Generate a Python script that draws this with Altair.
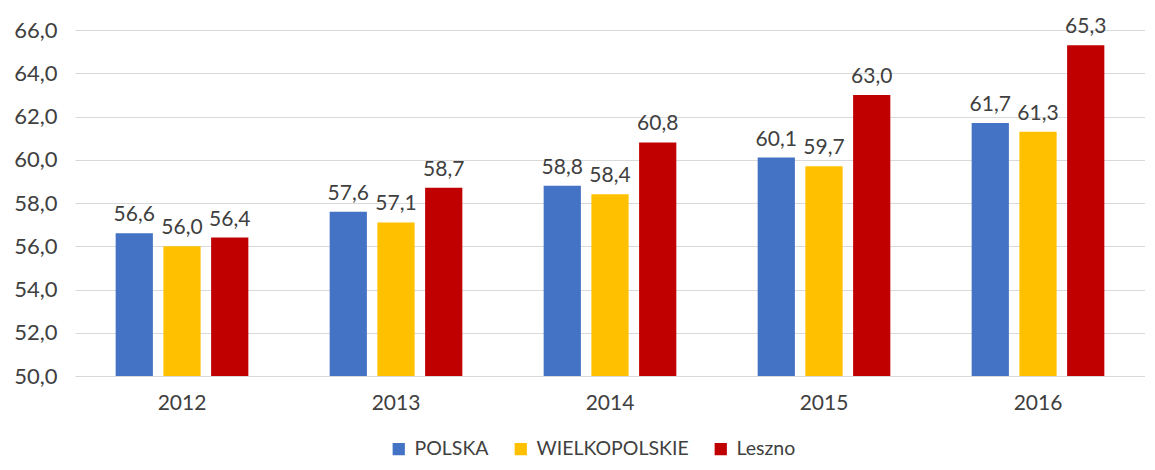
import altair as alt
import pandas as pd

years = ["2012", "2013", "2014", "2015", "2016"]
series = ["POLSKA", "WIELKOPOLSKIE", "Leszno"]
polska = [56.6, 57.6, 58.8, 60.1, 61.7]
wielkopolskie = [56.0, 57.1, 58.4, 59.7, 61.3]
leszno = [56.4, 58.7, 60.8, 63.0, 65.3]
colors = ["#4472C4", "#FFC000", "#C00000"]

rows = []
for name, vals in zip(series, [polska, wielkopolskie, leszno]):
    for y, v in zip(years, vals):
        rows.append({"year": y, "series": name, "value": v})
df = pd.DataFrame(rows)

FONT = "Lato"
TXT = "#404040"

x = alt.X("year:N", title=None, sort=years,
          scale=alt.Scale(paddingInner=0.38, paddingOuter=0.19),
          axis=alt.Axis(labelAngle=0, domain=False, ticks=False, labelPadding=16,
                        labelFontSize=21, labelColor=TXT, labelFont=FONT))
xo = alt.XOffset("series:N", sort=series, scale=alt.Scale(paddingInner=0.22, paddingOuter=0))
y = alt.Y("value:Q", title=None,
          scale=alt.Scale(domain=[50, 66], zero=False, nice=False),
          axis=alt.Axis(values=list(range(50, 67, 2)), domain=False, ticks=False,
                        labelExpr="replace(format(datum.value, '.1f'), '.', ',')",
                        labelFontSize=22, labelColor=TXT, labelFont=FONT,
                        labelPadding=18, gridColor="#D9D9D9", gridWidth=1))

bars = alt.Chart(df).mark_bar().encode(
    x=x, xOffset=xo, y=y, y2=alt.datum(50),
    color=alt.Color("series:N", sort=series,
                    scale=alt.Scale(domain=series, range=colors),
                    legend=alt.Legend(title=None, orient="none", direction="horizontal",
                                      legendX=314, legendY=409,
                                      symbolType="square", symbolSize=150,
                                      symbolStrokeWidth=0,
                                      labelFontSize=19.5, labelColor=TXT,
                                      labelFont=FONT, columnPadding=22, labelOffset=6)),
)

labels = alt.Chart(df).transform_calculate(
    lab="replace(format(datum.value, '.1f'), '.', ',')"
).mark_text(baseline="bottom", dy=-8, fontSize=21, color=TXT, font=FONT).encode(
    x=x, xOffset=xo, y=y, text="lab:N"
)

chart = alt.layer(bars, labels).properties(
    width=1070, height=346,
    autosize=alt.AutoSizeParams(type="none"),
    padding={"left": 67, "top": 22, "right": 0, "bottom": 86},
).configure_view(stroke=None)

chart.save("out.html", embed_options={"renderer": "svg", "actions": False})
